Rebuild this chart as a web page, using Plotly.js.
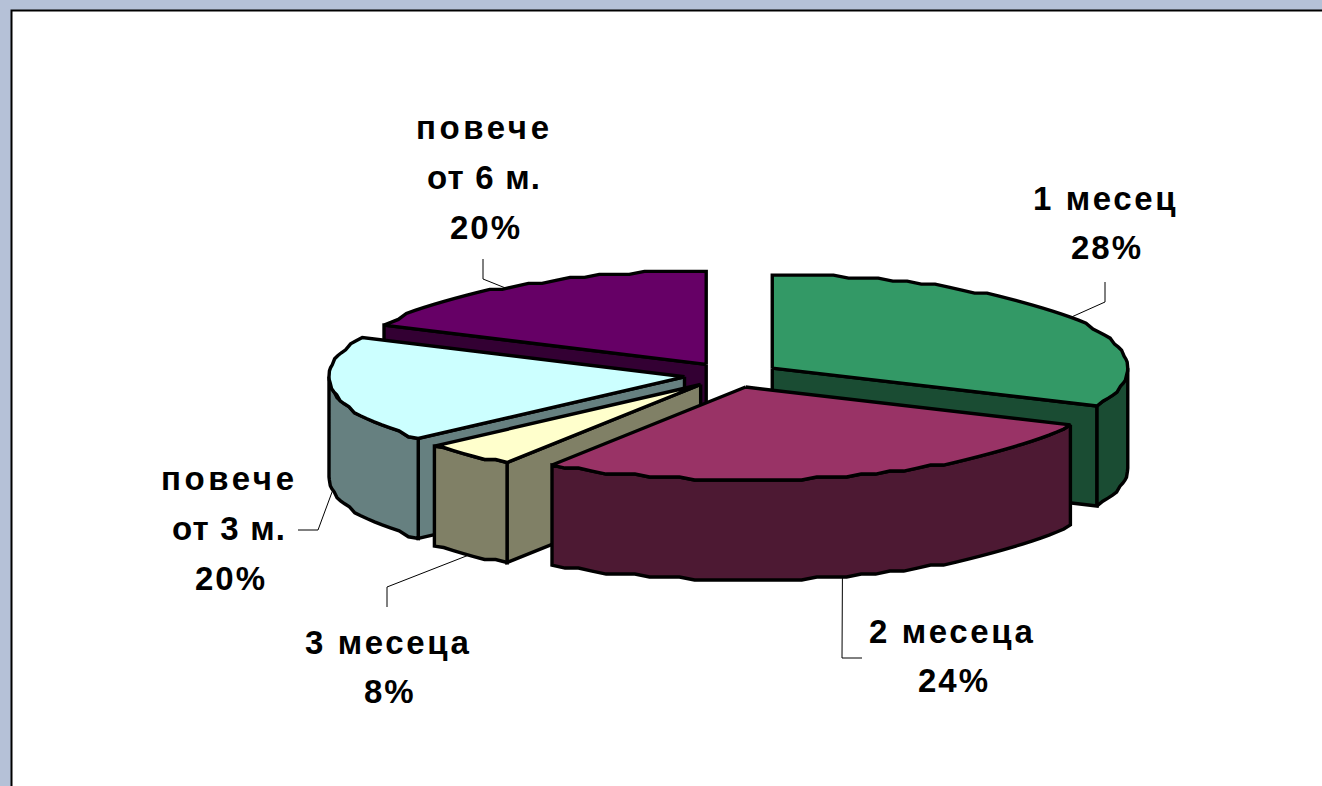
<!DOCTYPE html>
<html><head><meta charset="utf-8">
<script src="https://cdn.plot.ly/plotly-3.0.1.min.js"></script>
<style>html,body{margin:0;padding:0;overflow:hidden;background:#fff}#c{width:1322px;height:786px}</style>
</head><body><div id="c"></div>
<script>
// Data
const categories = ['1 месец','2 месеца','3 месеца','повече от 3 м.','повече от 6 м.'];
const shares = [28,24,8,20,20];
// Angle (degrees) that each slice occupies in the picture
const drawnSweep = [114,99,15.5,66.5,65];
const topColors = ['#339966','#993366','#FFFFCC','#CCFFFF','#660066'];
const sideColors = ['#1A4C33','#4D1933','#808066','#668080','#330033'];
const nameLines = [['1 месец'],['2 месеца'],['3 месеца'],['повече','от 3 м.'],['повече','от 6 м.']];
const labelX = [1105,952,388,229,484];
const labelTopY = [198,631,642,478,127];
const labelPitch = 50.5;
const leaderAngles = [57,164.2,220.7,261.7,325.5];
const elbows = [[[1105,302],[1105,282]],[[842,658],[862,658]],[[387,587],[387,607]],[[318,530],[298,530]],[[483,279],[483,259]]];
const paintOrder = [4,0,3,2,1];

// 3-D pie projection
const C = {x:732,y:375,rx:355.5,ry:93,depth:100,explode:48,grain:3};
const rad = d=>d*Math.PI/180;
const proj = (ox,oy,deg,z=0)=>[ox+C.rx*Math.sin(rad(deg)), oy-C.ry*Math.cos(rad(deg))+z];
const traces = [];
const poly = (pts,fill,name)=>traces.push({type:'scatter',mode:'lines',x:pts.map(p=>p[0]),y:pts.map(p=>p[1]),
  fill:'toself',fillcolor:fill,line:{color:'#000',width:3.4,simplify:false},hoverinfo:'skip',showlegend:false,name});
let acc=0;
const slices = drawnSweep.map((s,i)=>{const a0=acc,a1=acc+s;acc=a1;const m=(a0+a1)/2;
  return {a0,a1,m,ox:C.x+C.explode*Math.sin(rad(m)),oy:C.y-C.explode*(C.ry/C.rx)*Math.cos(rad(m))};});
// The reference rim is a coarse, stepped outline: snap the arc to a small grid between its end points
const snap=v=>Math.round(v/C.grain)*C.grain;
const arc=(s,z,from,to)=>{const n=Math.max(2,Math.ceil(Math.abs(to-from)/2.5));const o=[];
  for(let k=0;k<=n;k++){const p=proj(s.ox,s.oy,from+(to-from)*k/n,z);
    o.push(k===0||k===n?p:[p[0],snap(p[1]-z-s.oy)+s.oy+z]);}
  return o;};
paintOrder.forEach(i=>{const s=slices[i];
  const startSeen=Math.sin(rad(s.a0))<-1e-6, endSeen=Math.sin(rad(s.a1))>1e-6;
  [[s.a0,startSeen],[s.a1,endSeen]].forEach(([a,seen])=>{if(!seen)return;const r=proj(s.ox,s.oy,a);
    poly([[s.ox,s.oy],r,[r[0],r[1]+C.depth],[s.ox,s.oy+C.depth],[s.ox,s.oy]],sideColors[i],categories[i]);});
  const f=Math.max(s.a0,90),t=Math.min(s.a1,270);
  if(t>f)poly([...arc(s,0,f,t),...arc(s,C.depth,t,f)].concat([proj(s.ox,s.oy,f)]),sideColors[i],categories[i]);
  poly([[s.ox,s.oy],...arc(s,0,s.a0,s.a1),[s.ox,s.oy]],topColors[i],categories[i]);
});
// Leader lines start on the slice rim
slices.forEach((s,i)=>{const a=leaderAngles[i];const front=Math.cos(rad(a))<0;
  const p=proj(s.ox,s.oy,a,front?C.depth:0);const pts=[p,...elbows[i]];
  traces.push({type:'scatter',mode:'lines',x:pts.map(q=>q[0]),y:pts.map(q=>q[1]),line:{color:'#000',width:1},hoverinfo:'skip',showlegend:false});});

const annotations=[];
const font={family:'"Liberation Sans",Arial,sans-serif',size:33,color:'#000'};
const spaced=(t,px)=>'<span style="letter-spacing:'+px+'px"><b>'+t+'</b></span>';
categories.forEach((c,i)=>{
  nameLines[i].forEach((t,k)=>annotations.push({x:labelX[i],y:labelTopY[i]+k*labelPitch,xref:'x',yref:'y',
    text:spaced(t,t==='повече'?3.6:(t.startsWith('от')?1.2:2.6)),showarrow:false,xanchor:'center',yanchor:'middle',font}));
  annotations.push({x:labelX[i]+2,y:labelTopY[i]+nameLines[i].length*labelPitch-1,xref:'x',yref:'y',
    text:spaced(shares[i]+'%',2),showarrow:false,xanchor:'center',yanchor:'middle',font});
});

Plotly.newPlot('c',traces,{
  width:1322,height:786,margin:{l:0,r:0,t:0,b:0},paper_bgcolor:'#B5C1D7',plot_bgcolor:'rgba(0,0,0,0)',showlegend:false,
  xaxis:{range:[0,1322],visible:false,fixedrange:true},
  yaxis:{range:[786,0],visible:false,fixedrange:true},
  shapes:[{type:'rect',xref:'x',yref:'y',x0:11.5,y0:10.5,x1:1340,y1:800,fillcolor:'#fff',line:{color:'#000',width:2},layer:'below'}],
  annotations
},{staticPlot:true,displayModeBar:false});
</script></body></html>
